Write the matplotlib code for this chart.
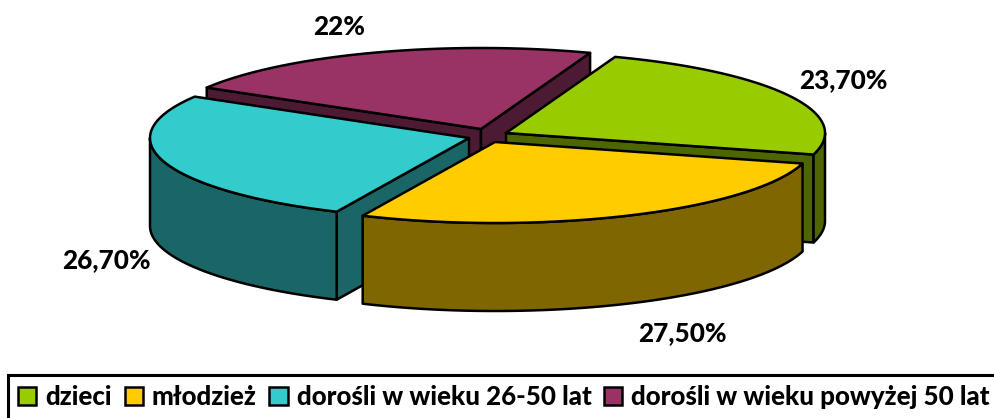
#!/usr/bin/env python3
"""Exploded 3D-look pie chart, drawn as projected polygons on a pixel-sized axes."""

import matplotlib
matplotlib.use("Agg")
import matplotlib.pyplot as plt
import numpy as np
from matplotlib.patches import Patch, Polygon, Rectangle

# ---- data ----
categories = ["dzieci", "młodzież", "dorośli w wieku 26-50 lat", "dorośli w wieku powyżej 50 lat"]
values = [23.7, 27.5, 26.7, 22.0]
value_labels = ["23,70%", "27,50%", "26,70%", "22%"]

# ---- style / layout ----
TOP_COLORS = ["#99CC00", "#FFCC00", "#33CCCC", "#993366"]
SIDE_COLORS = ["#4D6600", "#806600", "#1A6666", "#4D1A33"]
APEX = [(506, 133), (495, 142), (469, 138), (481, 129)]   # exploded slice tips
LABEL_POS = [(843, 80), (682, 333), (106, 260), (339, 27)]
RX, RY = 319, 81       # top ellipse radii
DEPTH = 88             # extrusion height
START_ANGLE = 20       # degrees clockwise from 12 o'clock
DRAW_ORDER = [3, 0, 2, 1]
LW = 1.8

plt.rcParams["font.family"] = ["Lato", "DejaVu Sans"]
plt.rcParams["font.weight"] = "black"

fig = plt.figure(figsize=(9.95, 4.18), dpi=100)
ax = fig.add_axes([0, 0, 1, 1])
ax.set_xlim(0, 995)
ax.set_ylim(418, 0)
ax.axis("off")


def rim(apex, a0, a1):
    t = np.radians(np.linspace(a0, a1, 120))
    return apex[0] + RX * np.sin(t), apex[1] - RY * np.cos(t)


def add_poly(xs, ys, color):
    ax.add_patch(Polygon(np.column_stack([xs, ys]), closed=True, facecolor=color,
                         edgecolor="black", lw=LW, joinstyle="round"))


edges = START_ANGLE + np.concatenate([[0], np.cumsum(values)]) / np.sum(values) * 360

for i in DRAW_ORDER:
    a0, a1 = edges[i], edges[i + 1]
    apex = APEX[i]
    side = SIDE_COLORS[i]

    # cut faces, only the ones turned to the viewer
    for a, visible in ((a0, np.sin(np.radians(a0)) < 0), (a1, np.sin(np.radians(a1)) > 0)):
        if visible:
            x, y = rim(apex, a, a)
            x, y = x[0], y[0]
            add_poly([apex[0], x, x, apex[0]], [apex[1], y, y + DEPTH, apex[1] + DEPTH], side)

    # outer wall, front half of the rim only
    for lo, hi in ((90, 270), (450, 630)):
        w0, w1 = max(a0, lo), min(a1, hi)
        if w0 < w1:
            x, y = rim(apex, w0, w1)
            add_poly(np.r_[x, x[::-1]], np.r_[y, y[::-1] + DEPTH], side)

    x, y = rim(apex, a0, a1)
    add_poly(np.r_[apex[0], x], np.r_[apex[1], y], TOP_COLORS[i])

for lab, (lx, ly) in zip(value_labels, LABEL_POS):
    ax.text(lx, ly, lab, ha="center", va="center", fontsize=18.8, fontweight="black", color="black")

# legend box runs off the right and bottom of the picture
ax.add_patch(Rectangle((8, 375), 1100, 100, facecolor="white", edgecolor="black", lw=2.2))
handles = [Patch(facecolor=c, edgecolor="black", lw=LW) for c in TOP_COLORS]
ax.legend(handles, categories, loc="center left", bbox_to_anchor=(18 / 995, 1 - 397 / 418), ncol=4,
          fontsize=18.6, frameon=False, handlelength=0.7, handleheight=0.7, handletextpad=0.35,
          columnspacing=0.5, borderpad=0, borderaxespad=0)

fig.savefig("out.png", dpi=100)
